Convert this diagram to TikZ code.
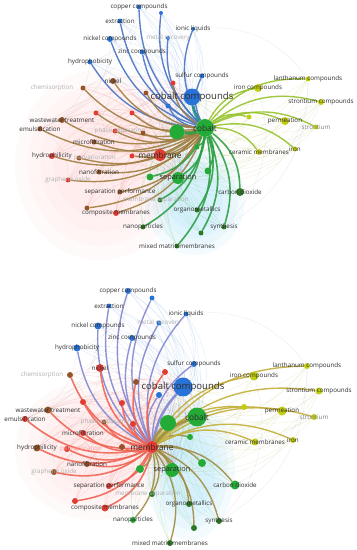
\documentclass[tikz,border=0pt]{standalone}
\usepackage{fontspec}
\setmainfont{Open Sans}
\usetikzlibrary{backgrounds}
\definecolor{cB}{RGB}{40,115,215}
\definecolor{cR}{RGB}{225,60,50}
\definecolor{cBr}{RGB}{150,85,40}
\definecolor{cG}{RGB}{35,170,55}
\definecolor{cDG}{RGB}{45,120,35}
\definecolor{cY}{RGB}{195,205,15}
\definecolor{txt}{RGB}{45,45,45}
\definecolor{ftxt}{RGB}{175,175,175}
\definecolor{eTBc}{RGB}{75,115,195}
\definecolor{eTRc}{RGB}{160,125,65}
\definecolor{eTGc}{RGB}{45,160,70}
\definecolor{eTYc}{RGB}{150,195,45}
\definecolor{eBBc}{RGB}{130,135,210}
\definecolor{eBRc}{RGB}{240,100,85}
\definecolor{eBGc}{RGB}{160,140,65}
\definecolor{eBYc}{RGB}{195,175,60}
\pgfdeclarelayer{web}
\pgfdeclarelayer{edges}
\pgfsetlayers{web,edges,main}
\tikzset{
  dot/.style={circle,inner sep=0pt,draw=none,minimum size=#1pt},
  lab/.style={font=\fontsize{6.3}{7}\selectfont,text=txt,inner sep=0pt},
  flab/.style={lab,text=ftxt},
  bigl/.style={lab,font=\fontsize{9.6}{11}\selectfont},
  medl/.style={lab,font=\fontsize{8.4}{10}\selectfont},
  sepl/.style={lab,font=\fontsize{7.4}{9}\selectfont},
  web/.style={line width=0.35pt,opacity=0.15},
  hl/.style={line width=1.4pt,opacity=0.9},
  wash/.style={opacity=0.07},
}
\newcommand\V[7]{\node[dot=#4,fill=#5] (#1) at (#2,#3) {};\node[#6] (#1l) at (#2,#3) {#7};}
\begin{document}
\begin{tikzpicture}[x=1bp,y=-1bp]
\useasboundingbox (0,0) rectangle (356,550);
% ================= TOP PANEL =================
\V{Tcu}{139}{7}{5}{cB}{lab}{copper compounds}
\V{Tb1}{161}{13}{4}{cB}{lab}{}
\V{Text}{120}{21}{5}{cB}{lab}{extraction}
\V{Tion}{193}{29}{4}{cB}{lab}{ionic liquids}
\V{Tmet}{168}{38}{4}{cB}{flab}{metal recovery}
\V{Tni}{110}{39}{6}{cB}{lab}{nickel compounds}
\V{Tzn}{142}{52}{5}{cB}{lab}{zinc compounds}
\V{Thyd}{90}{62}{5}{cB}{lab}{hydrophobicity}
\V{Tsul}{202}{76}{5}{cB}{lab}{sulfur compounds}
\V{Tb2}{168}{106}{5}{cB}{lab}{}
\V{Tnick}{113}{81}{6}{cBr}{lab}{nickel}
\V{Tr1}{173}{83}{5}{cR}{lab}{}
\V{Tr2}{146}{93}{5}{cBr}{lab}{}
\V{Tchem}{83}{88}{5}{cBr}{flab}{}
\node[flab] (Tcheml) at (52,88) {chemisorption};
\V{Tr3}{96}{113}{5}{cR}{lab}{}
\V{Tr4}{132}{113}{5}{cR}{lab}{}
\V{Tww}{62}{120}{6}{cBr}{lab}{wastewater treatment}
\V{Temu}{40}{129}{5}{cBr}{lab}{emulsification}
\V{Tr5}{115}{131}{5}{cR}{flab}{}
\node[flab] (Tpsl) at (120,131) {phase separation};
\V{Tr6}{143}{133}{5}{cBr}{lab}{}
\V{Tmf}{94}{142}{5}{cBr}{lab}{microfiltration}
\V{Thyl}{52}{156}{6}{cR}{lab}{hydrophilicity}
\V{Tpv}{79}{158}{5}{cBr}{flab}{}
\node[flab] (Tpvl) at (95,158) {pervaporation};
\V{Tr7}{132}{156}{5}{cR}{lab}{}
\V{Tnf}{99}{172}{5}{cBr}{lab}{nanofiltration}
\V{Tgo}{68}{180}{5}{cR}{flab}{graphene oxide}
\V{Tsp}{120}{192}{5}{cBr}{lab}{separation performance}
\V{Tr8}{87}{208}{5}{cBr}{lab}{}
\V{Tcm}{116}{213}{6}{cR}{lab}{composite membranes}
\V{Tg1}{177}{132}{15}{cG}{lab}{}
\V{Tg2}{197}{147}{5}{cG}{lab}{}
\V{Tg3}{208}{171}{7}{cG}{lab}{}
\V{Tg4}{150}{177}{7}{cG}{lab}{}
\V{Tms}{160}{200}{5}{cDG}{flab}{}
\node[flab] (Tmsl) at (156,200) {membrane separation};
\V{Torg}{197}{210}{5}{cDG}{lab}{organometallics}
\V{Tsyn}{224}{227}{5}{cDG}{lab}{synthesis}
\V{Tg5}{201}{233}{5}{cDG}{lab}{}
\V{Tmmm}{177}{246}{5}{cDG}{lab}{mixed matrix membranes}
\V{Tnp}{143}{227}{5}{cDG}{lab}{nanoparticles}
\V{Tcd}{240}{192}{8}{cDG}{lab}{carbon dioxide}
\V{Tfe}{258}{88}{8}{cY}{lab}{iron compounds}
\V{Tla}{308}{79}{5}{cY}{lab}{lanthanum compounds}
\V{Tsrc}{321}{102}{6}{cY}{lab}{strontium compounds}
\V{Tper}{285}{121}{8}{cY}{lab}{permeation}
\V{Tsr}{316}{127}{5}{cY}{flab}{}
\node[lab,text=gray] (Tsrl) at (316,127) {strontium};
\V{Ty1}{249}{117}{5}{cY}{lab}{}
\V{Tcer}{259}{152}{6}{cY}{lab}{ceramic membranes}
\V{Tiron}{295}{149}{5}{cY}{lab}{iron}
\V{Tcoc}{192}{97}{17}{cB}{bigl}{cobalt compounds}
\V{Tmem}{160}{155}{12}{cR}{medl}{membrane}
\V{Tsep}{178}{178}{12}{cG}{sepl}{separation}
\V{Tco}{205}{128}{18}{cG}{medl}{cobalt}
% ================= BOTTOM PANEL =================
\V{Bcu}{128}{291}{6}{cB}{lab}{copper compounds}
\V{Bb1}{152}{298}{5}{cB}{lab}{}
\V{Bext}{109}{306}{5}{cB}{lab}{extraction}
\V{Bion}{186}{314}{5}{cB}{lab}{ionic liquids}
\V{Bmet}{159}{323}{5}{cB}{flab}{metal recovery}
\V{Bni}{98}{326}{7}{cB}{lab}{nickel compounds}
\V{Bzn}{132}{338}{6}{cB}{lab}{zinc compounds}
\V{Bhyd}{77}{348}{7}{cB}{lab}{hydrophobicity}
\V{Bsul}{194}{364}{6}{cB}{lab}{sulfur compounds}
\V{Bb2}{159}{395}{6}{cB}{lab}{}
\V{Bnick}{100}{368}{8}{cR}{lab}{nickel}
\V{Br1}{165}{372}{6}{cR}{lab}{}
\V{Bchem}{70}{375}{6}{cBr}{flab}{}
\node[flab] (Bcheml) at (42,375) {chemisorption};
\V{Br2}{136}{382}{6}{cBr}{lab}{}
\V{Br3}{83}{402}{6}{cR}{lab}{}
\V{Br4}{122}{403}{6}{cR}{lab}{}
\V{Bww}{48}{410}{7}{cBr}{lab}{wastewater treatment}
\V{Bemu}{25}{419}{6}{cR}{lab}{emulsification}
\V{Br5}{104}{422}{5}{cBr}{flab}{}
\node[flab] (Bpsl) at (106,422) {phase separation};
\V{Br6}{133}{424}{6}{cR}{lab}{}
\V{Bmf}{83}{433}{6}{cR}{lab}{microfiltration}
\V{Bhyl}{37}{448}{7}{cBr}{lab}{hydrophilicity}
\V{Bpv}{67}{449}{6}{cR}{flab}{}
\node[flab,text=pink!80!red] (Bpvl) at (81,449) {pervaporation};
\V{Br7}{122}{447}{6}{cBr}{lab}{}
\V{Bnf}{87}{464}{6}{cBr}{lab}{nanofiltration}
\V{Bgo}{54}{472}{6}{cBr}{flab}{graphene oxide}
\V{Bsp}{109}{486}{6}{cR}{lab}{separation performance}
\V{Br8}{75}{501}{6}{cR}{lab}{}
\V{Bcm}{105}{508}{7}{cR}{lab}{composite membranes}
\V{Bg1}{168}{423}{16}{cG}{lab}{}
\V{Bg2}{190}{437}{6}{cG}{lab}{}
\V{Bg3}{202}{463}{8}{cG}{lab}{}
\V{Bg4}{140}{469}{8}{cG}{lab}{}
\V{Bms}{152}{494}{6}{cDG}{flab}{}
\node[flab] (Bmsl) at (148,494) {membrane separation};
\V{Borg}{189}{504}{6}{cDG}{lab}{organometallics}
\V{Bsyn}{219}{521}{6}{cDG}{lab}{synthesis}
\V{Bg5}{194}{528}{6}{cDG}{lab}{}
\V{Bmmm}{170}{543}{6}{cDG}{lab}{mixed matrix membranes}
\V{Bnp}{133}{520}{6}{cG}{lab}{nanoparticles}
\V{Bcd}{235}{485}{9}{cG}{lab}{carbon dioxide}
\V{Bfe}{254}{376}{9}{cY}{lab}{iron compounds}
\V{Bla}{307}{366}{6}{cY}{lab}{lanthanum compounds}
\V{Bsrc}{319}{391}{7}{cY}{lab}{strontium compounds}
\V{Bper}{282}{411}{9}{cY}{lab}{permeation}
\V{Bsr}{314}{417}{6}{cY}{flab}{}
\node[lab,text=gray] (Bsrl) at (314,417) {strontium};
\V{By1}{244}{407}{6}{cY}{lab}{}
\V{Bcer}{255}{442}{7}{cY}{lab}{ceramic membranes}
\V{Biron}{293}{440}{6}{cY}{lab}{iron}
\V{Bcoc}{183}{387}{19}{cB}{bigl}{cobalt compounds}
\V{Bco}{197}{417}{19}{cG}{medl}{cobalt}
\V{Bsep}{172}{470}{14}{cG}{sepl}{separation}
\V{Bmem}{152}{447}{12}{cR}{medl}{membrane}
% ================= FAINT WEB =================
\begin{pgfonlayer}{web}
\fill[white] (0,0) rectangle (356,550);
\foreach \r in {1,0.85,0.7,0.55} {
  \fill[wash,pink] (100,165) ellipse ({85*\r} and {95*\r});
  \fill[wash,cyan!60] (195,200) ellipse ({50*\r} and {55*\r});
  \fill[wash,pink] (95,450) ellipse ({80*\r} and {70*\r});
  \fill[wash,cyan!60] (190,470) ellipse ({45*\r} and {70*\r});
}
\foreach \pre/\blu/\red/\grn/\yel/\hubs in {
  T/{Tcu,Tb1,Text,Tion,Tmet,Tni,Tzn,Thyd,Tsul,Tb2}/{Tnick,Tr1,Tr2,Tchem,Tr3,Tr4,Tww,Temu,Tr5,Tr6,Tmf,Thyl,Tpv,Tr7,Tnf,Tgo,Tsp,Tr8,Tcm}/{Tg2,Tg3,Tg4,Tms,Torg,Tsyn,Tg5,Tmmm,Tnp,Tcd}/{Tfe,Tla,Tsrc,Tper,Tsr,Ty1,Tcer,Tiron}/{Tcoc,Tmem,Tsep,Tg1},
  B/{Bcu,Bb1,Bext,Bion,Bmet,Bni,Bzn,Bhyd,Bsul,Bb2}/{Bnick,Br1,Br2,Bchem,Br3,Br4,Bww,Bemu,Br5,Br6,Bmf,Bhyl,Bpv,Br7,Bnf,Bgo,Bsp,Br8,Bcm}/{Bg2,Bg3,Bg4,Bms,Borg,Bsyn,Bg5,Bmmm,Bnp,Bcd}/{Bfe,Bla,Bsrc,Bper,Bsr,By1,Bcer,Biron}/{Bcoc,Bco,Bsep,Bg1}}{
  \foreach \h in \hubs {
    \foreach \a in \blu {\draw[web,cB] (\a) to[bend left=26] (\h);}
    \foreach \a in \red {\draw[web,cR] (\a) to[bend left=26] (\h);}
    \foreach \a in \grn {\draw[web,cG] (\a) to[bend left=26] (\h);}
    \foreach \a in \yel {\draw[web,cY!80!black] (\a) to[bend left=26] (\h);}
  }
}
\foreach \a/\b in {Tni/Tww,Thyd/Temu,Tww/Tcm,Temu/Tgo,Tcu/Thyd,Tla/Tcd,Tsrc/Tcer,Tfe/Tsyn,Tnick/Thyl,Tchem/Tnf,Tcu/Tchem,Tion/Tla,Tla/Tsyn,Text/Temu,
  Bni/Bww,Bhyd/Bemu,Bww/Bcm,Bemu/Bgo,Bcu/Bhyd,Bla/Bcd,Bsrc/Bcer,Bfe/Bsyn,Bnick/Bhyl,Bchem/Bnf,Bcu/Bchem,Bion/Bla,Bla/Bsyn,Bext/Bemu}
  {\draw[web,gray] (\a) to[bend left=30] (\b);}
\end{pgfonlayer}
% ================= HIGHLIGHTED EDGES =================
\begin{pgfonlayer}{edges}
\foreach \t in {Tcu,Tb1,Text,Tion,Tmet,Tni,Tzn,Thyd,Tsul,Tb2}
  {\draw[hl,eTBc] (Tco) to[bend left=26] (\t);}
\foreach \t in {Tnick,Tr1,Tr2,Tchem,Tr3,Tr4,Tww,Temu,Tr5,Tr6,Tmf,Thyl,Tpv,Tr7,Tmem,Tnf,Tgo,Tsp,Tr8,Tcm}
  {\draw[hl,eTRc] (Tco) to[bend left=26] (\t);}
\foreach \t in {Tg2,Tg3,Tsep,Tg4,Tms,Torg,Tsyn,Tg5,Tmmm,Tnp,Tcd}
  {\draw[hl,eTGc,line width=1.6pt] (Tco) to[bend left=26] (\t);}
\foreach \t in {Tfe,Tla,Tsrc,Tper,Tsr,Ty1,Tcer,Tiron}
  {\draw[hl,eTYc] (Tco) to[bend left=26] (\t);}
\draw[hl,line width=3pt,color=cB!50!cG] (Tco) to[bend left=15] (Tcoc);
\draw[hl,line width=3pt,eTGc] (Tco) to[bend left=15] (Tg1);
% bottom, from membrane
\foreach \t in {Bcu,Bb1,Bext,Bion,Bmet,Bni,Bzn,Bhyd,Bsul,Bb2}
  {\draw[hl,eBBc] (Bmem) to[bend left=26] (\t);}
\foreach \t in {Bnick,Br1,Br2,Bchem,Br3,Br4,Bww,Bemu,Br5,Br6,Bmf,Bhyl,Bpv,Br7,Bnf,Bgo,Bsp,Br8,Bcm}
  {\draw[hl,eBRc,line width=1.6pt] (Bmem) to[bend left=26] (\t);}
\foreach \t in {Bg2,Bg3,Bg4,Bms,Borg,Bsyn,Bg5,Bmmm,Bnp,Bcd}
  {\draw[hl,eBGc] (Bmem) to[bend left=26] (\t);}
\foreach \t in {Bfe,Bla,Bsrc,Bper,Bsr,By1,Bcer,Biron}
  {\draw[hl,eBYc] (Bmem) to[bend left=26] (\t);}
\draw[hl,line width=2.6pt,eBBc] (Bmem) to[bend left=15] (Bcoc);
\draw[hl,line width=2.6pt,eBGc] (Bmem) to[bend left=15] (Bco);
\draw[hl,line width=2.6pt,eBGc] (Bmem) to[bend left=15] (Bg1);
\draw[hl,line width=2.2pt,eBGc] (Bmem) to[bend left=15] (Bsep);
\end{pgfonlayer}
\end{tikzpicture}
\end{document}
